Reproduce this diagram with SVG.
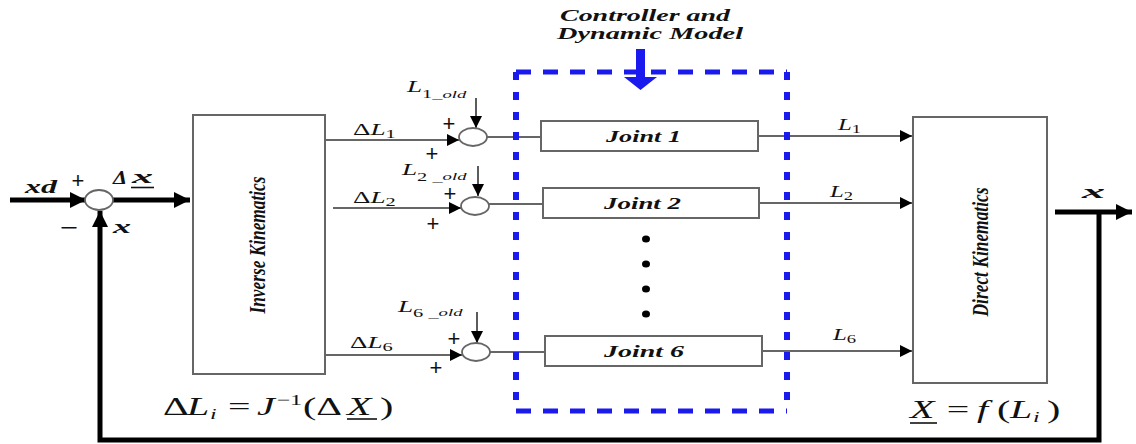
<svg xmlns="http://www.w3.org/2000/svg" width="1136" height="444" viewBox="0 0 1136 444">
<style>
.box{fill:#fff;stroke:#666;stroke-width:2}
.thin{fill:none;stroke:#333;stroke-width:1.6}
.thick{fill:none;stroke:#000;stroke-width:5}
.sum{fill:#fff;stroke:#666;stroke-width:1.8}
.bh{stroke:#1a1aef;stroke-width:5;stroke-dasharray:15,12;fill:none}
.bv{stroke:#1a1aef;stroke-width:6;stroke-dasharray:8,12;fill:none}
.math{font-family:"Liberation Serif","DejaVu Serif",serif;font-style:italic;fill:#111}
.up{font-family:"Liberation Serif","DejaVu Serif",serif;font-style:normal;fill:#111}
.bi{font-family:"Liberation Serif","DejaVu Serif",serif;font-style:italic;font-weight:bold;fill:#111}
.plus{font-family:"Liberation Sans",Arial,sans-serif;font-size:22px;fill:#111;text-anchor:middle}
</style>
<defs>
<marker id="ah" viewBox="0 0 10 10" refX="10" refY="5" markerWidth="16" markerHeight="12" markerUnits="userSpaceOnUse" orient="auto"><path d="M0,0 L10,5 L0,10 z" fill="#000"/></marker>
<marker id="ahb" viewBox="0 0 10 10" refX="10" refY="5" markerWidth="18" markerHeight="16" markerUnits="userSpaceOnUse" orient="auto"><path d="M0,0 L10,5 L0,10 z" fill="#000"/></marker>
</defs>

<g id="connectors">
  <line class="thick" x1="10" y1="200" x2="86" y2="200" marker-end="url(#ahb)"/>
  <line class="thick" x1="113" y1="200" x2="190" y2="200" marker-end="url(#ahb)"/>
  <polyline class="thick" points="1099,212 1099,440 100,440 100,211" marker-end="url(#ahb)"/>
  <line class="thick" x1="1055" y1="212" x2="1132" y2="212" marker-end="url(#ahb)"/>
  <line class="thin" x1="325" y1="140" x2="459" y2="140" marker-end="url(#ah)"/>
  <line class="thin" x1="333" y1="208" x2="461" y2="208" marker-end="url(#ah)"/>
  <line class="thin" x1="325" y1="355" x2="462" y2="355" marker-end="url(#ah)"/>
  <line class="thin" x1="476" y1="98" x2="476" y2="128" marker-end="url(#ah)"/>
  <line class="thin" x1="478" y1="166" x2="478" y2="196" marker-end="url(#ah)"/>
  <line class="thin" x1="477" y1="312" x2="477" y2="343" marker-end="url(#ah)"/>
  <line class="thin" x1="487" y1="137" x2="541" y2="137"/>
  <line class="thin" x1="489" y1="204" x2="543" y2="204"/>
  <line class="thin" x1="490" y1="352" x2="545" y2="352"/>
  <line class="thin" x1="758" y1="136" x2="912" y2="136" marker-end="url(#ah)"/>
  <line class="thin" x1="759" y1="203" x2="912" y2="203" marker-end="url(#ah)"/>
  <line class="thin" x1="762" y1="351" x2="912" y2="351" marker-end="url(#ah)"/>
  <path d="M636,49 H645 V77 H657 L640.5,90 L624,77 H636 Z" fill="#1a1aef"/>
</g>

<g id="sum0">
  <ellipse class="sum" cx="99" cy="200" rx="14" ry="10"/>
  <text class="plus" x="78" y="188">+</text>
  <g transform="translate(69,235) scale(1.4,1)"><text class="plus">−</text></g>
</g>

<g id="inverse-kinematics">
  <rect class="box" x="193" y="115" width="132" height="259"/>
  <text class="bi" font-size="16" text-anchor="middle" transform="translate(265,245) scale(1.5,1) rotate(-90)" textLength="137" lengthAdjust="spacingAndGlyphs">Inverse Kinematics</text>
</g>

<g id="sum1">
  <ellipse class="sum" cx="473" cy="137" rx="14" ry="9"/>
  <text class="plus" x="449" y="131">+</text>
  <text class="plus" x="432" y="161">+</text>
</g>
<g id="sum2">
  <ellipse class="sum" cx="475" cy="206" rx="14" ry="9"/>
  <text class="plus" x="450" y="201">+</text>
  <text class="plus" x="433" y="231">+</text>
</g>
<g id="sum6">
  <ellipse class="sum" cx="476" cy="352" rx="14" ry="9"/>
  <text class="plus" x="454" y="346">+</text>
  <text class="plus" x="436" y="375">+</text>
</g>

<g id="controller">
  <line class="bh" x1="516" y1="72" x2="787" y2="72"/>
  <line class="bh" x1="516" y1="411" x2="787" y2="411"/>
  <line class="bv" x1="516" y1="72" x2="516" y2="411"/>
  <line class="bv" x1="787" y1="72" x2="787" y2="411"/>
  <text class="bi" font-size="17" x="560" y="21" textLength="170" lengthAdjust="spacingAndGlyphs">Controller and</text>
  <text class="bi" font-size="17" x="557" y="39" textLength="186" lengthAdjust="spacingAndGlyphs">Dynamic Model</text>
  <ellipse cx="646" cy="239" rx="4" ry="3.5" fill="#000"/>
  <ellipse cx="646" cy="264" rx="4" ry="3.5" fill="#000"/>
  <ellipse cx="646" cy="289" rx="4" ry="3.5" fill="#000"/>
  <ellipse cx="646" cy="314" rx="4" ry="3.5" fill="#000"/>
</g>

<g id="joint1">
  <rect class="box" x="541" y="121" width="217" height="30"/>
  <text class="bi" font-size="17" x="606" y="142" textLength="75" lengthAdjust="spacingAndGlyphs">Joint 1</text>
</g>
<g id="joint2">
  <rect class="box" x="543" y="188" width="216" height="30"/>
  <text class="bi" font-size="17" x="604" y="209" textLength="77" lengthAdjust="spacingAndGlyphs">Joint 2</text>
</g>
<g id="joint6">
  <rect class="box" x="545" y="336" width="217" height="30"/>
  <text class="bi" font-size="17" x="604" y="357" textLength="80" lengthAdjust="spacingAndGlyphs">Joint 6</text>
</g>

<g id="direct-kinematics">
  <rect class="box" x="913" y="117" width="134" height="266"/>
  <text class="bi" font-size="16" text-anchor="middle" transform="translate(988,252) scale(1.5,1) rotate(-90)" textLength="129" lengthAdjust="spacingAndGlyphs">Direct Kinematics</text>
</g>

<g id="labels">
  <text class="bi" font-size="18" x="25" y="193" textLength="32" lengthAdjust="spacingAndGlyphs">xd</text>
  <text class="bi" font-size="18" x="113" y="184" textLength="14" lengthAdjust="spacingAndGlyphs">Δ</text>
  <text class="bi" font-size="18" x="132" y="183" textLength="21" lengthAdjust="spacingAndGlyphs">x</text>
  <line x1="131" y1="187.5" x2="154" y2="187.5" stroke="#111" stroke-width="1.6"/>
  <text class="bi" font-size="18" x="113" y="233" textLength="18" lengthAdjust="spacingAndGlyphs">x</text>
  <text class="bi" font-size="18" x="1082" y="198" textLength="23" lengthAdjust="spacingAndGlyphs">x</text>

  <g transform="translate(353,135) scale(1.7,1)"><text class="up" font-size="16">Δ<tspan class="math">L</tspan><tspan class="up" font-size="12" dy="3">1</tspan></text></g>
  <g transform="translate(353,203) scale(1.7,1)"><text class="up" font-size="16">Δ<tspan class="math">L</tspan><tspan class="up" font-size="12" dy="3">2</tspan></text></g>
  <g transform="translate(350,348) scale(1.7,1)"><text class="up" font-size="16">Δ<tspan class="math">L</tspan><tspan class="up" font-size="12" dy="3">6</tspan></text></g>

  <g transform="translate(407,92) scale(1.7,1)"><text class="math" font-size="16">L<tspan class="up" font-size="12" dy="6">1</tspan><tspan class="up" font-size="12">_</tspan><tspan font-size="11">old</tspan></text></g>
  <g transform="translate(402,175) scale(1.7,1)"><text class="math" font-size="16">L<tspan class="up" font-size="12" dy="6">2</tspan><tspan class="up" font-size="12"> _</tspan><tspan font-size="11" dy="-1">old</tspan></text></g>
  <g transform="translate(398,312) scale(1.7,1)"><text class="math" font-size="16">L<tspan class="up" font-size="12" dy="5">6</tspan><tspan class="up" font-size="12"> _</tspan><tspan font-size="11" dy="-1">old</tspan></text></g>

  <g transform="translate(838,130) scale(1.55,1)"><text class="math" font-size="16">L<tspan class="up" font-size="12" dy="3">1</tspan></text></g>
  <g transform="translate(830,197) scale(1.55,1)"><text class="math" font-size="16">L<tspan class="up" font-size="12" dy="3">2</tspan></text></g>
  <g transform="translate(833,340) scale(1.55,1)"><text class="math" font-size="16">L<tspan class="up" font-size="12" dy="3">6</tspan></text></g>

  <g transform="translate(163,415) scale(1.6,1)"><text class="up" font-size="25">Δ<tspan class="math" x="15">L</tspan><tspan class="math" font-size="15" x="29.4" dy="4">i</tspan><tspan x="40.6" dy="-4">=</tspan><tspan class="math" x="58.8">J</tspan><tspan font-size="15" x="71" dy="-10">−1</tspan><tspan x="87.5" dy="10">(Δ</tspan><tspan class="math" x="115">X</tspan><tspan x="135.6">)</tspan></text></g>
  <line x1="347" y1="419" x2="377" y2="419" stroke="#111" stroke-width="1.6"/>
  <g transform="translate(910,418) scale(1.6,1)"><text class="up" font-size="25"><tspan class="math">X</tspan><tspan x="23">=</tspan><tspan class="math" x="41.9">f</tspan><tspan x="54.4">(</tspan><tspan class="math" x="62.5">L</tspan><tspan class="math" font-size="15" x="76.9" dy="4">i</tspan><tspan x="85.6" dy="-4">)</tspan></text></g>
  <line x1="910" y1="423" x2="937" y2="423" stroke="#111" stroke-width="1.6"/>
</g>
</svg>
